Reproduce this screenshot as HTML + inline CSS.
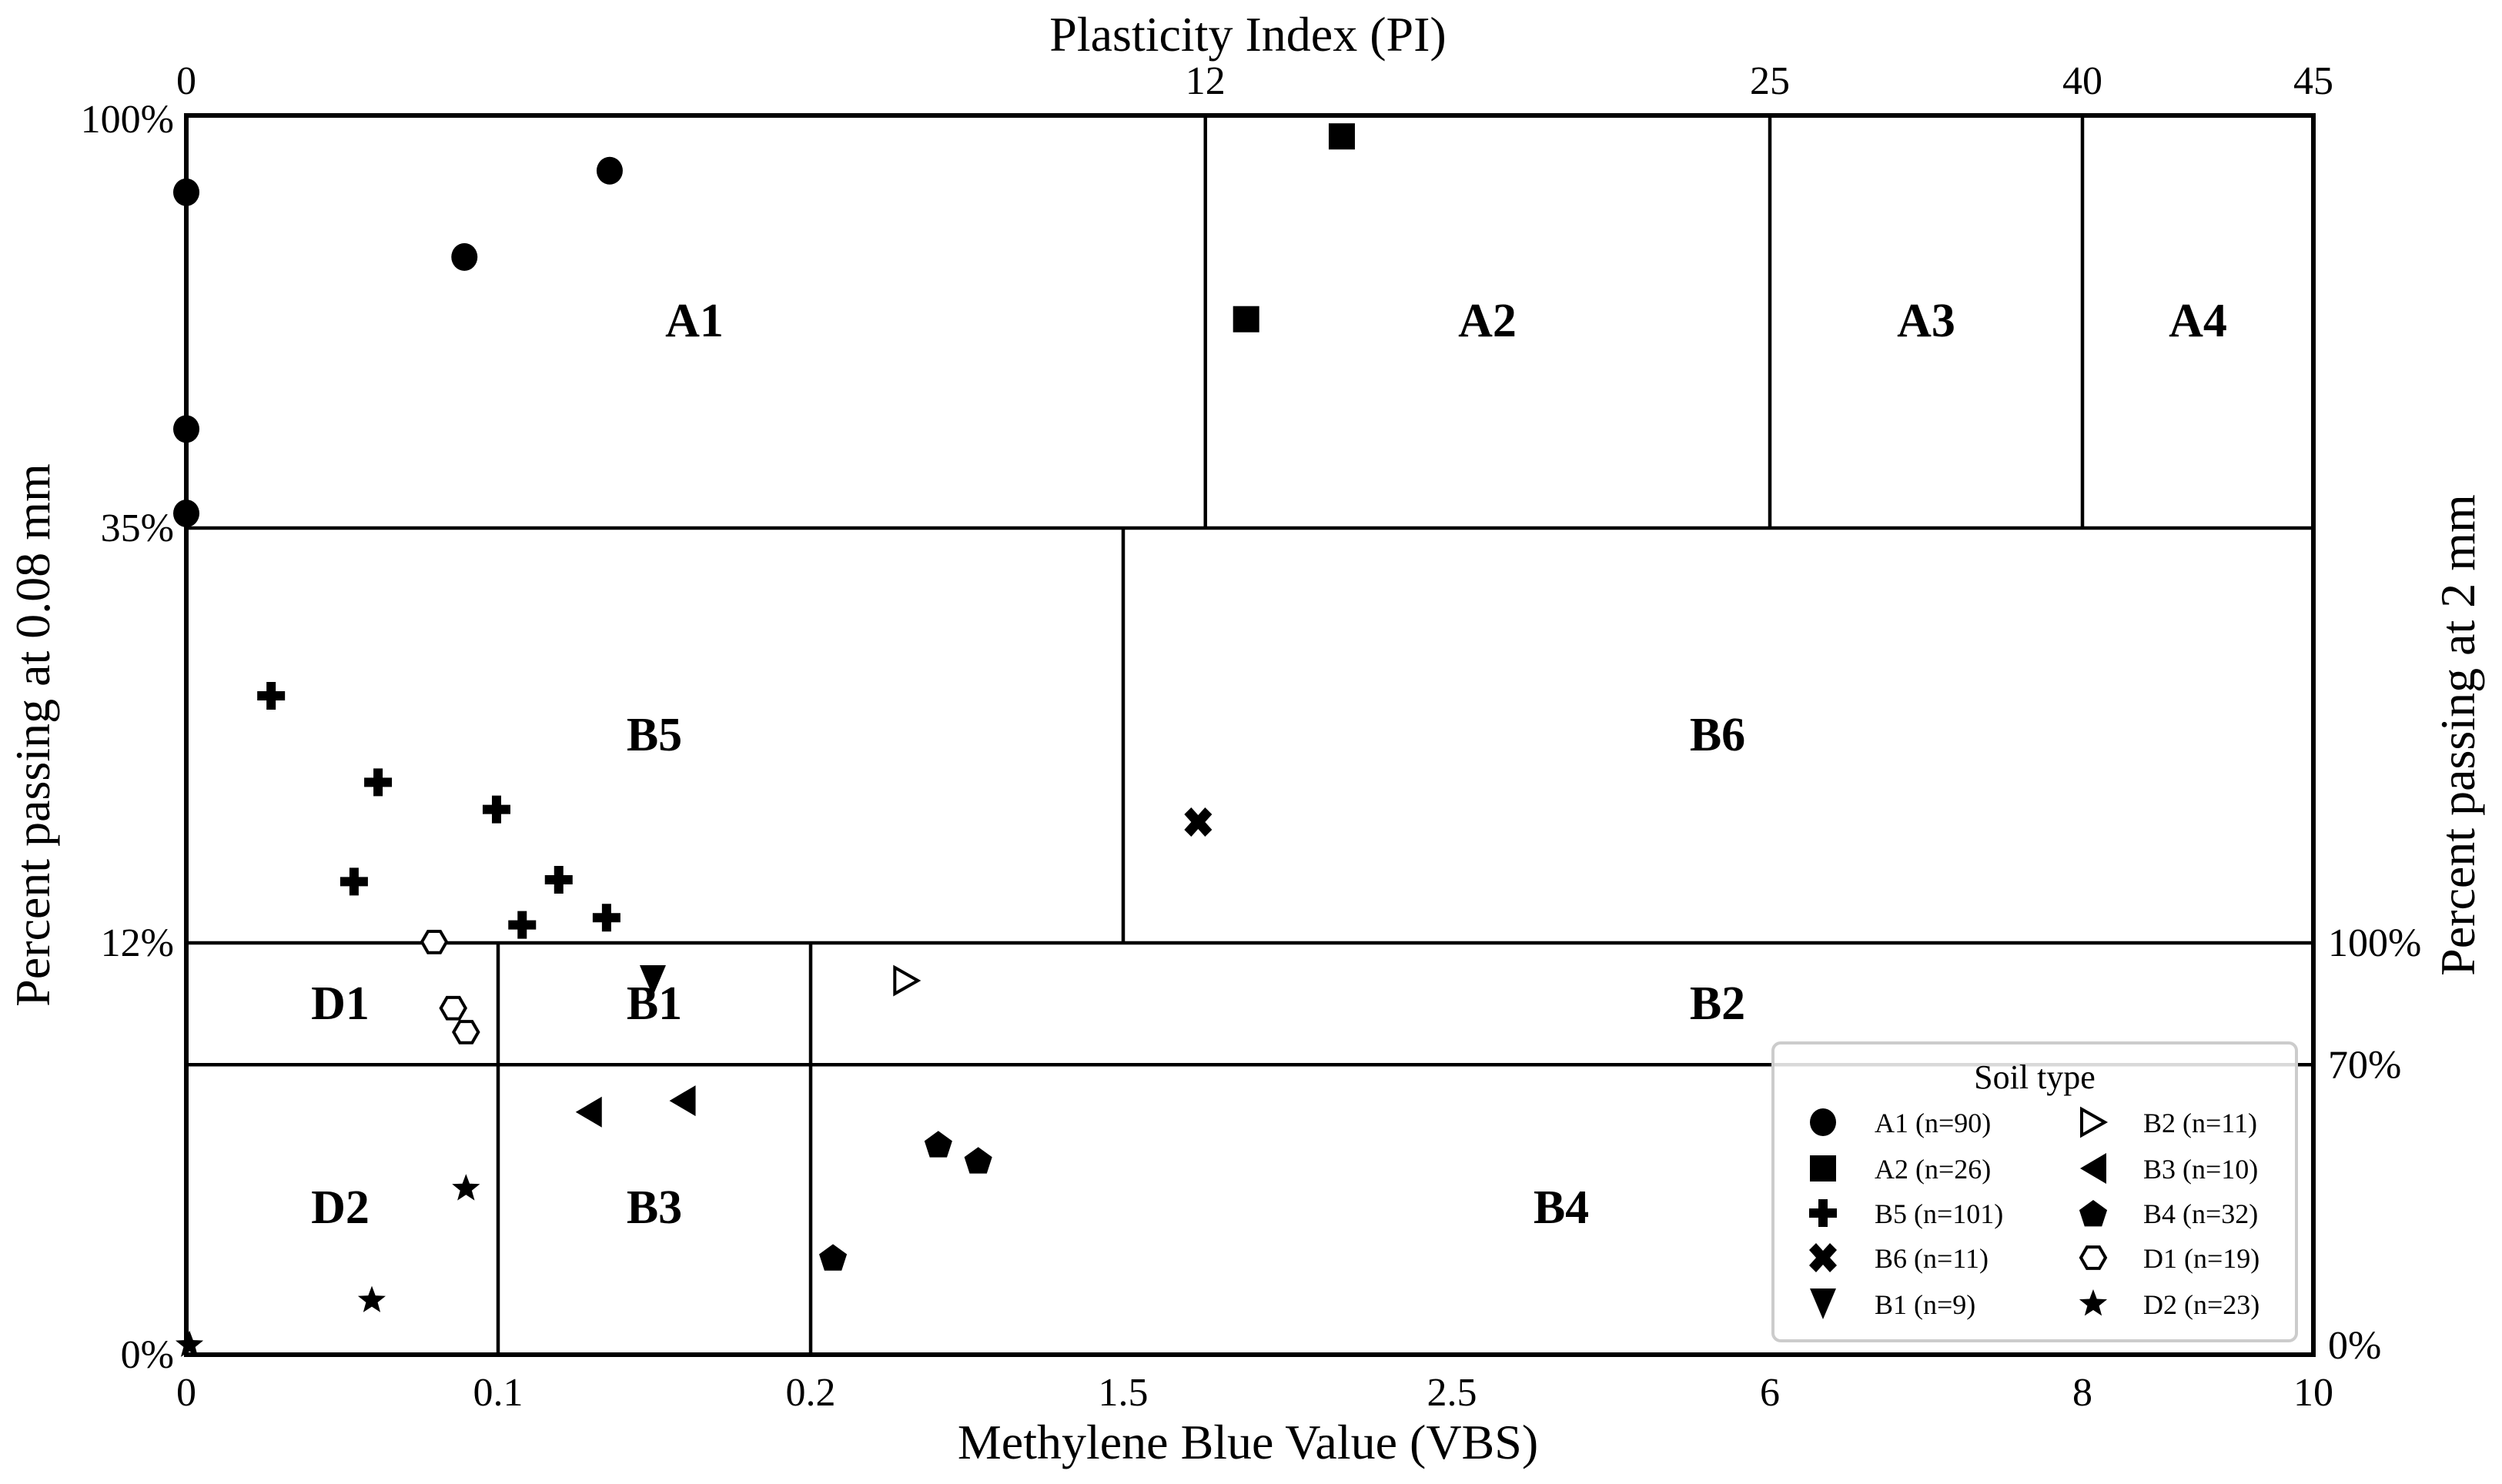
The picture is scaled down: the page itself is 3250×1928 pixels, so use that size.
<!DOCTYPE html>
<html><head><meta charset="utf-8">
<style>
html,body{margin:0;padding:0;background:#fff;}
svg{display:block;font-family:"Liberation Serif",serif;}
</style></head>
<body>
<svg id="chart" width="3250" height="1928" viewBox="0 0 3250 1928" xmlns="http://www.w3.org/2000/svg">
<g id="grid"></g>
<g id="labels"></g>
<g id="axes"></g>
<g id="marks"></g>
<g id="legend"></g>
</svg>
<script>
// x axis (VBS) breakpoints and tick labels
const xTicks = [0, 0.1, 0.2, 1.5, 2.5, 6, 8, 10];
const xTickLabels = ["0", "0.1", "0.2", "1.5", "2.5", "6", "8", "10"];
// top axis PI ticks (positioned at VBS equivalents)
const piTickLabels = ["0", "12", "25", "40", "45"];
const piTickAt = [0, 1.75, 6, 8, 10];
// left y axis
const yTicks = [0, 12, 35, 100];
const yTickLabels = ["0%", "12%", "35%", "100%"];
// right y axis (percent passing 2 mm) shown at left-axis equivalents
const rTickLabels = ["0%", "70%", "100%"];
const rTickAt = [0, 8.45, 12];

// data series
const series = ["A1","A2","B5","B6","B1","B2","B3","B4","D1","D2"];
const seriesN = [90,26,101,11,9,11,10,32,19,23];
const A1x=[0,0,0,0.0892,0.1357], A1y=[87.9,50.6,37.3,77.7,91.3];
const A2x=[2.165,1.874], A2y=[96.7,67.9];
const B5x=[0.0272,0.0615,0.0995,0.0538,0.1194,0.1077,0.1347], B5y=[25.7,20.9,19.4,15.4,15.5,13.0,13.4];
const B6x=[1.728], B6y=[18.7];
const B1x=[0.1495], B1y=[10.9];
const B2x=[0.598], B2y=[10.9];
const B3x=[0.129,0.159], B3y=[7.07,7.40];
const B4x=[0.731,0.897,0.293], B4y=[6.14,5.67,2.84];
const D1x=[0.0795,0.0856,0.0897], D1y=[12.05,10.1,9.40];
const D2x=[0.0897,0.0595,0.001], D2y=[4.84,1.58,0.28];
const seriesX=[A1x,A2x,B5x,B6x,B1x,B2x,B3x,B4x,D1x,D2x];
const seriesY=[A1y,A2y,B5y,B6y,B1y,B2y,B3y,B4y,D1y,D2y];

const NS="http://www.w3.org/2000/svg";
const xPix=[242,647,1053,1459,1886,2299,2705,3005];
const yPix=[1760,1225,686,150];
function pw(v,dom,pix){
  if(v<=dom[0]) return pix[0];
  for(let i=0;i<dom.length-1;i++){
    if(v<=dom[i+1]) return pix[i]+(v-dom[i])/(dom[i+1]-dom[i])*(pix[i+1]-pix[i]);
  }
  return pix[pix.length-1];
}
const X=v=>pw(v,xTicks,xPix);
const Y=v=>pw(v,yTicks,yPix);
function el(tag,attrs,parent){const e=document.createElementNS(NS,tag);for(const k in attrs)e.setAttribute(k,attrs[k]);parent.appendChild(e);return e;}
function txt(s,attrs,parent){const e=el("text",attrs,parent);e.textContent=s;return e;}

const grid=document.getElementById("grid");
const segs=[
 [0,35,10,35],[0,12,10,12],[0,8.45,10,8.45],
 [1.75,35,1.75,100],[6,35,6,100],[8,35,8,100],
 [1.5,12,1.5,35],[0.1,0,0.1,12],[0.2,0,0.2,12]
];
segs.forEach((s,i)=>{
  const l=el("line",{x1:X(s[0]),y1:Y(s[1]),x2:X(s[2]),y2:Y(s[3]),stroke:"#000","stroke-width":4.5},grid);
  
  
});
const frame=el("rect",{x:X(0),y:Y(100),width:X(10)-X(0),height:Y(0)-Y(100),fill:"none",stroke:"#000","stroke-width":6},grid);



const labels=document.getElementById("labels");
const regions=[["A1",902,415],["A2",1932,415],["A3",2502,415],["A4",2855,415],["B5",850,953],["B6",2231,953],
 ["D1",442,1302],["B1",850,1302],["B2",2231,1302],["D2",442,1567],["B3",850,1567],["B4",2028,1567]];
regions.forEach(r=>{
  const t=txt(r[0],{x:r[1],y:r[2]+22,"text-anchor":"middle","font-size":62,"font-weight":"bold"},labels);
  
  
});

const axes=document.getElementById("axes");
xTicks.forEach((v,i)=>{
  const t=txt(xTickLabels[i],{x:X(v),y:1826,"text-anchor":"middle","font-size":52},axes);
  
  
});
piTickAt.forEach((v,i)=>{
  const t=txt(piTickLabels[i],{x:X(v),y:122,"text-anchor":"middle","font-size":52},axes);
  
  
});
yTicks.forEach((v,i)=>{
  const t=txt(yTickLabels[i],{x:226,y:Y(v)+(v===100?22:17),"text-anchor":"end","font-size":52},axes);
  
  
});
rTickAt.forEach((v,i)=>{
  const t=txt(rTickLabels[i],{x:3024,y:Y(v)+(v===0?5:17),"text-anchor":"start","font-size":52},axes);
  
  
});
let t;
t=txt("Methylene Blue Value (VBS)",{x:1621,y:1895,"text-anchor":"middle","font-size":64},axes);


t=txt("Plasticity Index (PI)",{x:1621,y:66,"text-anchor":"middle","font-size":64},axes);


t=txt("Percent passing at 0.08 mm",{x:0,y:0,"text-anchor":"middle","font-size":64,transform:"translate(64,955) rotate(-90)"},axes);


t=txt("Percent passing at 2 mm",{x:0,y:0,"text-anchor":"middle","font-size":64,transform:"translate(3214,955) rotate(-90)"},axes);



function star(cx,cy,R,r){let p=[];for(let i=0;i<10;i++){const a=-Math.PI/2+i*Math.PI/5;const rr=i%2?r:R;p.push((cx+rr*Math.cos(a)).toFixed(1)+","+(cy+rr*Math.sin(a)).toFixed(1));}return p.join(" ");}
function poly(cx,cy,n,R,rot){let p=[];for(let i=0;i<n;i++){const a=rot+i*2*Math.PI/n;p.push((cx+R*Math.cos(a)).toFixed(1)+","+(cy+R*Math.sin(a)).toFixed(1));}return p.join(" ");}
function marker(type,cx,cy,g){
  switch(type){
    case "A1": return el("ellipse",{cx,cy,rx:17,ry:18,fill:"#000"},g);
    case "A2": return el("rect",{x:cx-17,y:cy-17,width:34,height:34,fill:"#000"},g);
    case "B5": return el("path",{d:`M${cx-6},${cy-18}h12v12h12v12h-12v12h-12v-12h-12v-12h12z`,fill:"#000"},g);
    case "B6": return el("path",{d:`M${cx-9},${cy-19}L${cx},${cy-9}L${cx+9},${cy-19}L${cx+18},${cy-10}L${cx+9},${cy}L${cx+18},${cy+10}L${cx+9},${cy+19}L${cx},${cy+9}L${cx-9},${cy+19}L${cx-18},${cy+10}L${cx-9},${cy}L${cx-18},${cy-10}Z`,fill:"#000"},g);
    case "B1": return el("polygon",{points:`${cx-17},${cy-20} ${cx+17},${cy-20} ${cx},${cy+20}`,fill:"#000"},g);
    case "B2": return el("polygon",{points:`${cx-15},${cy-17} ${cx+15},${cy} ${cx-15},${cy+17}`,fill:"#fff",stroke:"#000","stroke-width":4},g);
    case "B3": return el("polygon",{points:`${cx+17},${cy-20} ${cx+17},${cy+20} ${cx-17},${cy}`,fill:"#000"},g);
    case "B4": return el("polygon",{points:poly(cx,cy+2,5,19,-Math.PI/2),fill:"#000"},g);
    case "D1": return el("polygon",{points:poly(cx,cy,6,16,0),fill:"#fff",stroke:"#000","stroke-width":4},g);
    case "D2": return el("polygon",{points:star(cx,cy,19,8),fill:"#000"},g);
  }
}
const marks=document.getElementById("marks");
series.forEach((s,si)=>{
  const g=el("g",{},marks);
  
  
  seriesX[si].forEach((xv,i)=>{
    const m=marker(s,X(xv),Y(seriesY[si][i]),g);
    
    
  });
});

const lg=document.getElementById("legend");
const box=el("rect",{x:2303,y:1355,width:680,height:387,rx:10,fill:"rgba(255,255,255,0.85)",stroke:"#ccc","stroke-width":4},lg);


t=txt("Soil type",{x:2643,y:1414,"text-anchor":"middle","font-size":44},lg);


const rowY=[1458,1518,1576,1634,1694];
series.forEach((s,i)=>{
  const col=i<5?0:1, row=i%5;
  const mx=col?2719:2368, tx=col?2784:2435, y=rowY[row];
  const g=el("g",{},lg);
  
  
  marker(s,mx,y,g);
  txt(s+" (n="+seriesN[i]+")",{x:tx,y:y+13,"font-size":36},g);
});
</script>
</body></html>
